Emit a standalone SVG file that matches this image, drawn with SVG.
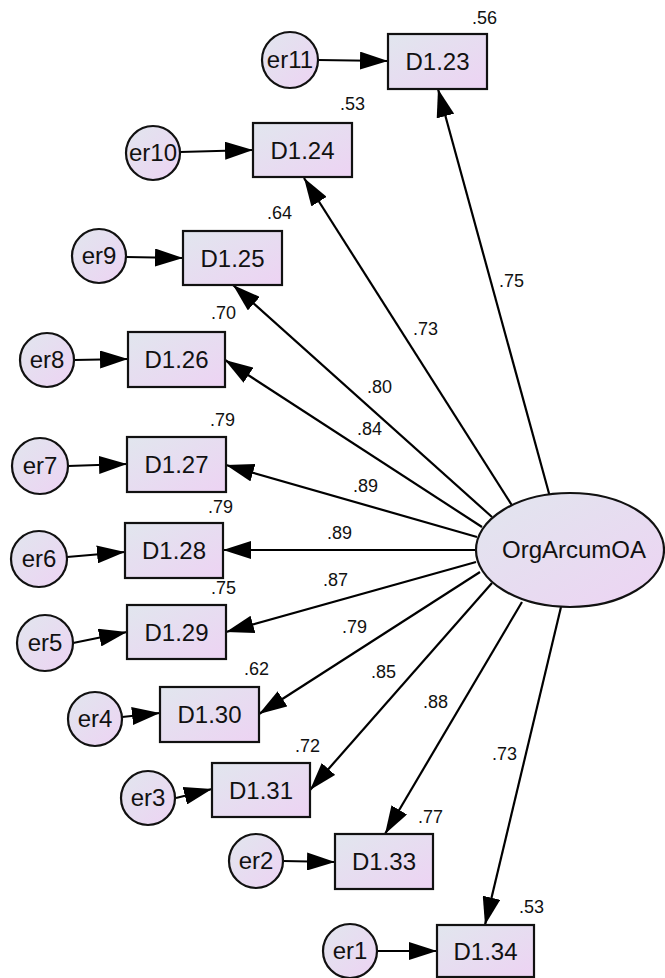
<svg xmlns="http://www.w3.org/2000/svg" width="665" height="978" viewBox="0 0 665 978">
  <defs>
    <linearGradient id="fillGrad" x1="0" y1="0" x2="1" y2="1">
      <stop offset="0" stop-color="#e1e6ee"/>
      <stop offset="1" stop-color="#edd3f3"/>
    </linearGradient>
    <marker id="ah" markerUnits="userSpaceOnUse" markerWidth="28" markerHeight="18" refX="28" refY="9" orient="auto">
      <path d="M0,0 L28,9 L0,18 z" fill="#000"/>
    </marker>
  </defs>
  <style>
    .box { fill: url(#fillGrad); stroke: #111; stroke-width: 2.2; }
    .err { fill: url(#fillGrad); stroke: #111; stroke-width: 2.2; }
    .lat { fill: url(#fillGrad); stroke: #111; stroke-width: 2.2; }
    .lbl { font-family: "Liberation Sans", Arial, sans-serif; font-size: 24px; fill: #111; text-anchor: middle; }
    .num { font-family: "Liberation Sans", Arial, sans-serif; font-size: 18px; fill: #111; }
    .conn line { stroke: #000; stroke-width: 2.2; fill: none; marker-end: url(#ah); }
  </style>
  <rect width="665" height="978" fill="#fff"/>

  <!-- connectors -->
  <g id="connectors" class="conn">
    <!-- loadings from the latent factor -->
    <line x1="550" y1="497" x2="438" y2="89"/>
    <line x1="513" y1="507" x2="304" y2="178"/>
    <line x1="492" y1="517" x2="233" y2="285"/>
    <line x1="482" y1="527" x2="225" y2="360"/>
    <line x1="477" y1="537" x2="226" y2="465"/>
    <line x1="476" y1="550" x2="223" y2="550"/>
    <line x1="476" y1="562" x2="226" y2="632"/>
    <line x1="480" y1="572" x2="259" y2="714"/>
    <line x1="492" y1="583" x2="310" y2="790"/>
    <line x1="522" y1="602" x2="385" y2="834"/>
    <line x1="561" y1="607" x2="485" y2="925"/>
    <!-- error terms -->
    <line x1="318" y1="60" x2="388" y2="61"/>
    <line x1="180" y1="152" x2="253" y2="150"/>
    <line x1="126" y1="257" x2="183" y2="258"/>
    <line x1="74" y1="360" x2="128" y2="359"/>
    <line x1="68" y1="466" x2="127" y2="464"/>
    <line x1="67" y1="557" x2="125" y2="552"/>
    <line x1="73" y1="643" x2="127" y2="632"/>
    <line x1="122" y1="717" x2="160" y2="713"/>
    <line x1="176" y1="798" x2="212" y2="789"/>
    <line x1="283" y1="861" x2="335" y2="862"/>
    <line x1="377" y1="951" x2="437" y2="951"/>
  </g>

  <!-- latent factor -->
  <g id="OrgArcumOA">
    <ellipse class="lat" cx="570" cy="550" rx="94" ry="57"/>
    <text class="lbl" x="574" y="558">OrgArcumOA</text>
  </g>

  <!-- observed indicators -->
  <g id="D1.23"><rect class="box" x="388" y="34" width="99" height="55"/><text class="lbl" x="437.5" y="70">D1.23</text></g>
  <g id="D1.24"><rect class="box" x="253" y="123" width="99" height="54"/><text class="lbl" x="302.5" y="159">D1.24</text></g>
  <g id="D1.25"><rect class="box" x="183" y="231" width="99" height="54"/><text class="lbl" x="232.5" y="267">D1.25</text></g>
  <g id="D1.26"><rect class="box" x="128" y="332" width="97" height="55"/><text class="lbl" x="176.5" y="368">D1.26</text></g>
  <g id="D1.27"><rect class="box" x="127" y="437" width="99" height="55"/><text class="lbl" x="176.5" y="473">D1.27</text></g>
  <g id="D1.28"><rect class="box" x="125" y="523" width="98" height="55"/><text class="lbl" x="174" y="559">D1.28</text></g>
  <g id="D1.29"><rect class="box" x="127" y="605" width="99" height="54"/><text class="lbl" x="176.5" y="641">D1.29</text></g>
  <g id="D1.30"><rect class="box" x="160" y="687" width="99" height="55"/><text class="lbl" x="209.5" y="723">D1.30</text></g>
  <g id="D1.31"><rect class="box" x="212" y="763" width="98" height="54"/><text class="lbl" x="261" y="799">D1.31</text></g>
  <g id="D1.33"><rect class="box" x="335" y="834" width="98" height="55"/><text class="lbl" x="384" y="870">D1.33</text></g>
  <g id="D1.34"><rect class="box" x="437" y="925" width="97" height="52"/><text class="lbl" x="485.5" y="960">D1.34</text></g>

  <!-- error terms -->
  <g id="er11"><circle class="err" cx="290" cy="60" r="28"/><text class="lbl" x="290" y="68">er11</text></g>
  <g id="er10"><circle class="err" cx="153" cy="153" r="27"/><text class="lbl" x="153" y="161">er10</text></g>
  <g id="er9"><circle class="err" cx="99" cy="256" r="27"/><text class="lbl" x="99" y="264">er9</text></g>
  <g id="er8"><circle class="err" cx="47" cy="360" r="27"/><text class="lbl" x="47" y="368">er8</text></g>
  <g id="er7"><circle class="err" cx="40" cy="466" r="28"/><text class="lbl" x="40" y="474">er7</text></g>
  <g id="er6"><circle class="err" cx="39" cy="559" r="28"/><text class="lbl" x="39" y="567">er6</text></g>
  <g id="er5"><circle class="err" cx="45" cy="643" r="28"/><text class="lbl" x="45" y="651">er5</text></g>
  <g id="er4"><circle class="err" cx="95" cy="719" r="27"/><text class="lbl" x="95" y="727">er4</text></g>
  <g id="er3"><circle class="err" cx="148" cy="798" r="27"/><text class="lbl" x="148" y="806">er3</text></g>
  <g id="er2"><circle class="err" cx="256" cy="861" r="27"/><text class="lbl" x="256" y="869">er2</text></g>
  <g id="er1"><circle class="err" cx="350" cy="951" r="27"/><text class="lbl" x="350" y="959">er1</text></g>

  <!-- squared multiple correlations -->
  <g id="r2-labels" class="num">
    <text x="472" y="24">.56</text>
    <text x="340" y="110">.53</text>
    <text x="267" y="219">.64</text>
    <text x="211" y="319">.70</text>
    <text x="210" y="426">.79</text>
    <text x="208" y="513">.79</text>
    <text x="211" y="594">.75</text>
    <text x="244" y="675">.62</text>
    <text x="295" y="752">.72</text>
    <text x="418" y="823">.77</text>
    <text x="519" y="913">.53</text>
  </g>

  <!-- standardized loadings -->
  <g id="loading-labels" class="num">
    <text x="499" y="287">.75</text>
    <text x="413" y="335">.73</text>
    <text x="367" y="393">.80</text>
    <text x="357" y="435">.84</text>
    <text x="353" y="492">.89</text>
    <text x="327" y="539">.89</text>
    <text x="323" y="586">.87</text>
    <text x="342" y="633">.79</text>
    <text x="371" y="678">.85</text>
    <text x="423" y="708">.88</text>
    <text x="492" y="760">.73</text>
  </g>
</svg>
